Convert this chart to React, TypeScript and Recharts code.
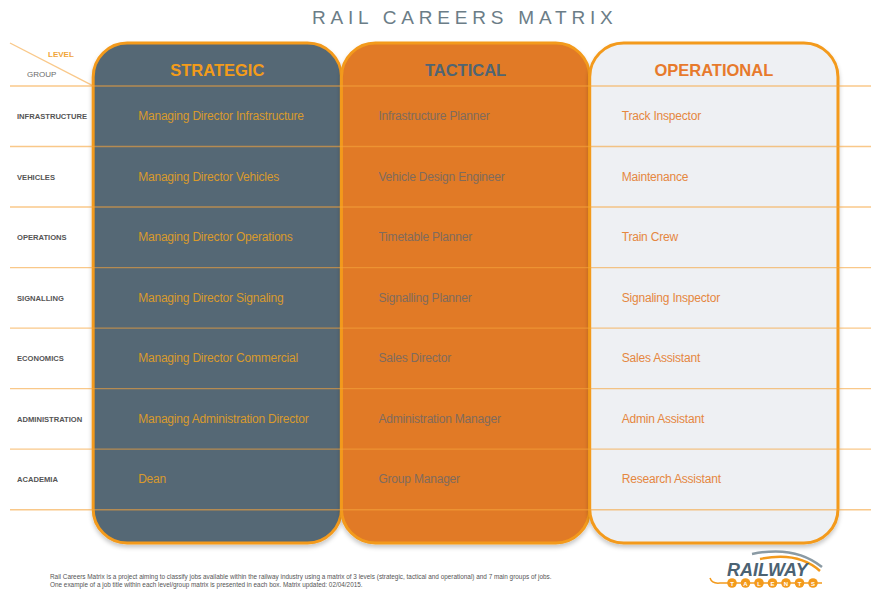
import React from 'react';
import {
  ComposedChart,
  XAxis,
  YAxis,
  ReferenceArea,
  ReferenceLine,
  Scatter,
} from 'recharts';

const LEVELS = ['STRATEGIC', 'TACTICAL', 'OPERATIONAL'];
const GROUPS = [
  'INFRASTRUCTURE',
  'VEHICLES',
  'OPERATIONS',
  'SIGNALLING',
  'ECONOMICS',
  'ADMINISTRATION',
  'ACADEMIA',
];
const STRATEGIC_JOBS = [
  'Managing Director Infrastructure',
  'Managing Director Vehicles',
  'Managing Director Operations',
  'Managing Director Signaling',
  'Managing Director Commercial',
  'Managing Administration Director',
  'Dean',
];
const TACTICAL_JOBS = [
  'Infrastructure Planner',
  'Vehicle Design Engineer',
  'Timetable Planner',
  'Signalling Planner',
  'Sales Director',
  'Administration Manager',
  'Group Manager',
];
const OPERATIONAL_JOBS = [
  'Track Inspector',
  'Maintenance',
  'Train Crew',
  'Signaling Inspector',
  'Sales Assistant',
  'Admin Assistant',
  'Research Assistant',
];
const JOBS_BY_LEVEL = [STRATEGIC_JOBS, TACTICAL_JOBS, OPERATIONAL_JOBS];

// one scatter point per matrix cell, x = level index, y = middle of the group row
const CELLS = JOBS_BY_LEVEL.flatMap((jobs, col) =>
  jobs.map((job, r) => ({ col, row: r + 0.5, job }))
);

const W = 871;
const H = 591;
// x in "column" units: label column to the left of 0, small gutter after 3
const X_MIN = -0.335;
const X_MAX = 3.133;
// y in "row" units: header band above 0, padding under the last row
const Y_MIN = -0.71;
const Y_MAX = 7.55;

const FONT = '"Liberation Sans", Arial, sans-serif';
const BORDER = '#f39a1c';
const ROW_LINE = '#f5a33a';

const COLUMN_STYLE = [
  { fill: '#546874', head: '#f39c1a', text: '#d99a2c', textX: 45 },
  { fill: '#e17a25', head: '#4f6573', text: '#7f6b5d', textX: 37 },
  { fill: '#eef0f3', head: '#e77a2c', text: '#e5873f', textX: 32 },
];

const ColumnShape = (props: any) => {
  const { x, y, width, height, fill } = props;
  return (
    <rect
      x={x}
      y={y}
      width={width}
      height={height}
      rx={34}
      ry={34}
      fill={fill}
      stroke={BORDER}
      strokeWidth={3}
      filter="url(#colShadow)"
    />
  );
};

const LevelTick = (props: any) => {
  const { x, y, payload, index } = props;
  const s = COLUMN_STYLE[index] || COLUMN_STYLE[0];
  return (
    <text
      x={x}
      y={y}
      dy={33}
      textAnchor="middle"
      fontFamily={FONT}
      fontSize={16.5}
      fontWeight="bold"
      fill={s.head}
    >
      {LEVELS[Math.floor(payload.value)]}
    </text>
  );
};

const GroupTick = (props: any) => {
  const { x, y, payload } = props;
  return (
    <text
      x={x + 7}
      y={y}
      dy={3}
      fontFamily={FONT}
      fontSize={7.6}
      fontWeight={600}
      fill="#555"
    >
      {GROUPS[Math.floor(payload.value)]}
    </text>
  );
};

const JobLabel = (props: any) => {
  const { cx, cy, payload } = props;
  const s = COLUMN_STYLE[payload.col];
  return (
    <text
      x={cx + s.textX}
      y={cy}
      dy={4}
      fontFamily={FONT}
      fontSize={12}
      letterSpacing={-0.2}
      fill={s.text}
    >
      {payload.job}
    </text>
  );
};

function Logo() {
  const letters = ['T', 'A', 'L', 'E', 'N', 'T', 'S'];
  return (
    <svg width={140} height={46} style={{ position: 'absolute', left: 700, top: 545 }}>
      <path d="M52 9 Q95 0 122 22" fill="none" stroke="#8a9aa4" strokeWidth={2.5} />
      <path d="M60 14 Q98 6 120 26" fill="none" stroke={BORDER} strokeWidth={2.5} />
      <text
        x={27}
        y={31}
        fontFamily={FONT}
        fontSize={18}
        fontWeight="bold"
        fontStyle="italic"
        fill="#4b6273"
      >
        RAILWAY
      </text>
      <path d="M10 33 Q12 39 20 38 L122 38" fill="none" stroke={BORDER} strokeWidth={1.5} />
      {letters.map((l, i) => (
        <g key={i}>
          <circle cx={32 + i * 13.5} cy={38} r={4.8} fill={BORDER} />
          <text
            x={32 + i * 13.5}
            y={40.5}
            textAnchor="middle"
            fontFamily={FONT}
            fontSize={6}
            fontWeight="bold"
            fill="#fff"
          >
            {l}
          </text>
        </g>
      ))}
    </svg>
  );
}

export default function App() {
  return (
    <div
      style={{
        position: 'absolute',
        left: 0,
        top: 0,
        width: W,
        height: H,
        background: '#fff',
        fontFamily: FONT,
      }}
    >
      <svg width={0} height={0} style={{ position: 'absolute' }}>
        <defs>
          <filter id="colShadow" x="-10%" y="-10%" width="120%" height="120%">
            <feDropShadow dx={0} dy={3} stdDeviation={2} floodColor="#000" floodOpacity={0.22} />
          </filter>
        </defs>
      </svg>

      <div
        style={{
          position: 'absolute',
          left: 312,
          top: 7,
          fontSize: 19,
          letterSpacing: 4.8,
          color: '#6b7d87',
          whiteSpace: 'nowrap',
        }}
      >
        RAIL CAREERS MATRIX
      </div>

      <ComposedChart
        width={W}
        height={H}
        data={CELLS}
        margin={{ top: 43, right: 0, bottom: H - 543, left: 10 }}
      >
        <XAxis
          xAxisId={0}
          type="number"
          dataKey="col"
          domain={[X_MIN, X_MAX]}
          allowDataOverflow
          orientation="top"
          mirror
          height={1}
          ticks={[0.5, 1.5, 2.5]}
          tick={<LevelTick />}
          tickLine={false}
          axisLine={false}
          tickSize={0}
          tickMargin={0}
          interval={0}
        />
        <YAxis
          yAxisId={0}
          type="number"
          dataKey="row"
          domain={[Y_MIN, Y_MAX]}
          allowDataOverflow
          reversed
          mirror
          width={1}
          ticks={GROUPS.map((_, i) => i + 0.5)}
          tick={<GroupTick />}
          tickLine={false}
          axisLine={false}
          tickSize={0}
          tickMargin={0}
          interval={0}
        />
        {LEVELS.map((lvl, i) => (
          <ReferenceArea
            key={lvl}
            x1={i}
            x2={i + 1}
            y1={Y_MIN}
            y2={Y_MAX}
            fill={COLUMN_STYLE[i].fill}
            fillOpacity={1}
            shape={ColumnShape}
          />
        ))}
        {Array.from({ length: GROUPS.length + 1 }, (_, i) => (
          <ReferenceLine
            key={i}
            y={i}
            stroke={ROW_LINE}
            strokeOpacity={0.6}
            strokeWidth={1.4}
          />
        ))}
        <ReferenceLine
          segment={[
            { x: X_MIN, y: Y_MIN },
            { x: 0, y: 0 },
          ]}
          stroke={ROW_LINE}
          strokeOpacity={0.6}
          strokeWidth={1.4}
        />
        <Scatter data={CELLS} shape={JobLabel} isAnimationActive={false} />
      </ComposedChart>

      <span
        style={{
          position: 'absolute',
          left: 48,
          top: 50,
          fontSize: 8,
          fontWeight: 'bold',
          color: '#f0a53a',
        }}
      >
        LEVEL
      </span>
      <span
        style={{
          position: 'absolute',
          left: 27,
          top: 70,
          fontSize: 8,
          color: '#6b6b6b',
        }}
      >
        GROUP
      </span>

      <div
        style={{
          position: 'absolute',
          left: 50,
          top: 573,
          fontSize: 6.4,
          lineHeight: '8px',
          color: '#555',
          whiteSpace: 'nowrap',
        }}
      >
        Rail Careers Matrix is a project aiming to classify jobs available within the railway
        industry using a matrix of 3 levels (strategic, tactical and operational) and 7 main groups
        of jobs.
        <br />
        One example of a job title within each level/group matrix is presented in each box. Matrix
        updated: 02/04/2015.
      </div>

      <Logo />
    </div>
  );
}
